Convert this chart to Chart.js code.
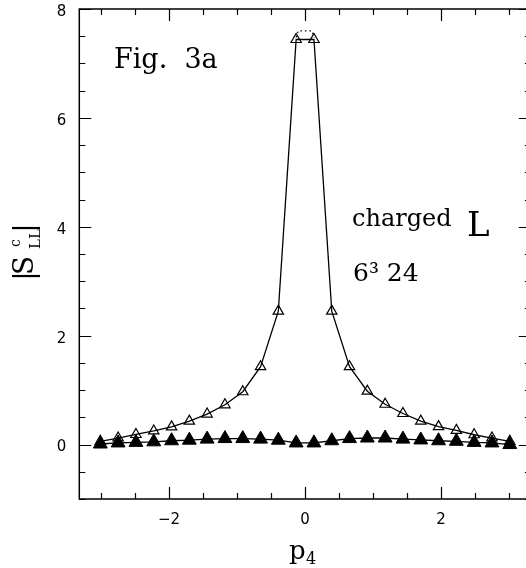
<!DOCTYPE html>
<html><head><meta charset="utf-8">
<script src="https://cdn.jsdelivr.net/npm/chart.js@4.4.0/dist/chart.umd.min.js"></script>
<style>html,body{margin:0;padding:0;background:#fff;overflow:hidden;} #wrap{position:relative;width:540px;height:568px;}</style>
</head><body><div id="wrap"><canvas id="c" width="540" height="568"></canvas></div>
<script>
// momentum values p4 = (2n+1)*pi/24
const p4 = [-3.011,-2.749,-2.487,-2.225,-1.963,-1.702,-1.440,-1.178,-0.916,-0.654,-0.393,-0.131,
            0.131,0.393,0.654,0.916,1.178,1.440,1.702,1.963,2.225,2.487,2.749,3.011];
// open triangles
const openVals = [0.06,0.12,0.185,0.25,0.325,0.43,0.56,0.73,0.97,1.43,2.45,7.44,
                  7.44,2.45,1.43,0.98,0.74,0.57,0.43,0.33,0.26,0.18,0.12,0.06];
// filled triangles
const filledVals = [0.01,0.03,0.04,0.05,0.07,0.08,0.10,0.11,0.11,0.10,0.08,0.03,
                    0.03,0.07,0.11,0.12,0.12,0.10,0.085,0.07,0.06,0.04,0.03,0.00];
// dotted curve over the peak
const peakP = [-0.131,-0.1,0.1,0.131];
const peakV = [7.48,7.6,7.6,7.48];
const xLabeled = [-2,0,2];
const yLabeled = [0,2,4,6,8];

const pts = (xs, ys) => xs.map((x,i)=>({x:x,y:ys[i]}));
const fmt = v => (v < 0 ? '\u2212' + Math.abs(v) : String(v));
const isIn = (arr, v) => arr.some(a => Math.abs(a - v) < 1e-9);

const decor = {
  id: 'decor',
  afterDraw(chart) {
    const {ctx, chartArea: a, scales: {x, y}} = chart;
    ctx.save();
    ctx.strokeStyle = '#000';
    ctx.lineWidth = 1.5;
    ctx.strokeRect(a.left, a.top, a.right - a.left, a.bottom - a.top);
    ctx.lineWidth = 1.2;
    ctx.beginPath();
    x.ticks.forEach(t => {
      const px = Math.round(x.getPixelForValue(t.value)) + 0.5;
      const L = isIn(xLabeled, t.value) ? 12 : 6;
      ctx.moveTo(px, a.bottom); ctx.lineTo(px, a.bottom - L);
      ctx.moveTo(px, a.top); ctx.lineTo(px, a.top + L);
    });
    y.ticks.forEach(t => {
      const py = Math.round(y.getPixelForValue(t.value)) + 0.5;
      const L = isIn(yLabeled, t.value) ? 12 : 6;
      ctx.moveTo(a.left, py); ctx.lineTo(a.left + L, py);
      ctx.moveTo(a.right, py); ctx.lineTo(a.right - L, py);
    });
    ctx.stroke();

    ctx.fillStyle = '#000';
    ctx.textBaseline = 'alphabetic';
    ctx.textAlign = 'left';
    const serif = '"DejaVu Serif", serif';
    ctx.font = '27px ' + serif;
    ctx.fillText('Fig.  3a', 114, 68);
    ctx.font = '24px ' + serif;
    ctx.fillText('charged', 352, 226);
    ctx.font = '34px ' + serif;
    ctx.fillText('L', 467, 236);
    ctx.font = '25px ' + serif;
    ctx.fillText('6\u00B3 24', 353, 281);

    // x title p_4
    ctx.font = '26px ' + serif;
    ctx.fillText('p', 289, 559);
    ctx.font = '16px ' + serif;
    ctx.fillText('4', 306, 564);

    // y title |S^c_LL|
    ctx.save();
    ctx.translate(33, 277);
    ctx.rotate(-Math.PI / 2);
    ctx.font = '28px ' + serif;
    ctx.textAlign = 'center';
    ctx.fillText('|', 1, 0);
    ctx.textAlign = 'left';
    ctx.fillText('S', 2, 0);
    ctx.font = '14px ' + serif;
    ctx.fillText('c', 30, -13);
    ctx.font = '15px ' + serif;
    ctx.fillText('LL', 28, 7);
    ctx.font = '28px ' + serif;
    ctx.textAlign = 'center';
    ctx.fillText('|', 49, 0);
    ctx.restore();

    ctx.restore();
  }
};

new Chart(document.getElementById('c'), {
  type: 'scatter',
  data: {
    datasets: [
      { data: pts(p4, filledVals), showLine: true, borderColor: '#000', borderWidth: 1.3,
        pointStyle: 'triangle', pointRadius: 8, pointBackgroundColor: '#000',
        pointBorderColor: '#000', pointBorderWidth: 1 },
      { data: pts(p4, openVals), showLine: true, borderColor: '#000', borderWidth: 1.3,
        pointStyle: 'triangle', pointRadius: 6, pointBackgroundColor: 'rgba(0,0,0,0)',
        pointBorderColor: '#000', pointBorderWidth: 1.2 },
      { data: pts(peakP, peakV), showLine: true, borderColor: '#000', borderWidth: 1.2,
        borderDash: [1.5, 3], pointRadius: 0 }
    ]
  },
  options: {
    responsive: false,
    animation: false,
    devicePixelRatio: 1,
    layout: { padding: { top: 4.3, right: 9.2, left: 0, bottom: 0 } },
    plugins: { legend: { display: false }, tooltip: { enabled: false } },
    scales: {
      x: {
        type: 'linear', min: -3.32, max: 3.32,
        grid: { display: false, drawTicks: false },
        border: { display: false },
        ticks: { stepSize: 0.5, includeBounds: false, autoSkip: false, maxRotation: 0,
                 padding: 12, color: '#000', font: { family: '"DejaVu Sans", sans-serif', size: 15 },
                 callback: v => isIn(xLabeled, v) ? fmt(v) : '' },
        afterFit: s => { s.height = 69; s.paddingLeft = 0; s.paddingRight = 0; }
      },
      y: {
        type: 'linear', min: -1, max: 8,
        grid: { display: false, drawTicks: false },
        border: { display: false },
        ticks: { stepSize: 0.5, includeBounds: false, autoSkip: false, labelOffset: 3,
                 padding: 13, color: '#000',
                 font: { family: '"DejaVu Sans", sans-serif', size: 15 },
                 callback: v => isIn(yLabeled, v) ? fmt(v) : '' },
        afterFit: s => { s.width = 79.3; s.paddingTop = 0; s.paddingBottom = 0; }
      }
    }
  },
  plugins: [decor]
});
</script>
</body></html>
